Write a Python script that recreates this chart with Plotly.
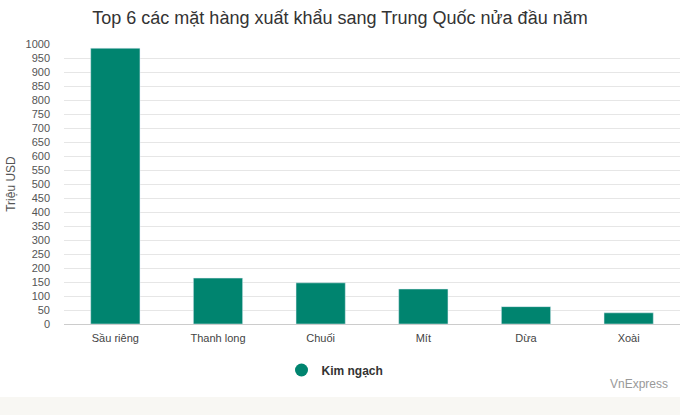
import plotly.graph_objects as go

categories = ["Sầu riêng", "Thanh long", "Chuối", "Mít", "Dừa", "Xoài"]
values = [985, 164, 147, 125, 62, 40]
series_name = "Kim ngạch"
bar_color = "#00846F"

W, H = 680, 415
L, R, T, B = 64, 0, 44, 91
plot_w = W - L - R
plot_h = H - T - B


def px_to_paper_y(py):
    return (H - B - py) / plot_h


def px_to_paper_x(px):
    return (px - L) / plot_w


fig = go.Figure()
fig.add_trace(go.Bar(
    x=categories, y=values, marker_color=bar_color, width=0.48,
    showlegend=False, name=series_name,
))
fig.add_trace(go.Scatter(
    x=[None], y=[None], mode="markers", name=series_name,
    marker=dict(color=bar_color, size=13, symbol="circle"),
))

fig.add_shape(type="rect", xref="paper", yref="paper",
              x0=px_to_paper_x(0), x1=1.0,
              y0=px_to_paper_y(H + 2), y1=px_to_paper_y(397),
              fillcolor="#f8f7f3", line_width=0, layer="below")

fig.update_layout(
    width=W, height=H,
    margin=dict(l=L, r=R, t=T, b=B, pad=0, autoexpand=False),
    paper_bgcolor="white", plot_bgcolor="white",
    font=dict(family="Arial, Liberation Sans, sans-serif", color="#333"),
    title=dict(text="Top 6 các mặt hàng xuất khẩu sang Trung Quốc nửa đầu năm",
               x=0.5, xanchor="center", xref="container",
               y=1 - 18 / H, yanchor="middle", yref="container",
               font=dict(size=18, color="#333")),
    xaxis=dict(showgrid=False, showline=True, linecolor="#cccccc", linewidth=1,
               ticks="", ticklabelstandoff=4, automargin=False,
               tickfont=dict(size=11, color="#444"), fixedrange=True),
    yaxis=dict(range=[0, 1000], dtick=50, showgrid=True, gridcolor="#e6e6e6",
               zeroline=False, showline=False, ticks="", ticklabelstandoff=13,
               automargin=False, fixedrange=True,
               tickfont=dict(size=11, color="#555"),
               title=dict(text="Triệu USD", font=dict(size=12, color="#555"), standoff=7)),
    legend=dict(orientation="h", xref="container", x=335 / W, xanchor="center",
                yref="container", y=1 - 370 / H, yanchor="middle",
                font=dict(size=12, color="#333", weight="bold"),
                itemwidth=30),
    annotations=[dict(text="VnExpress", xref="paper", yref="paper",
                      x=px_to_paper_x(670), y=px_to_paper_y(384),
                      xanchor="right", yanchor="middle", showarrow=False,
                      font=dict(size=12, color="#999"))],
)

fig.write_html("out.html", config={"displayModeBar": False},
               post_script="document.body.style.margin='0';")
